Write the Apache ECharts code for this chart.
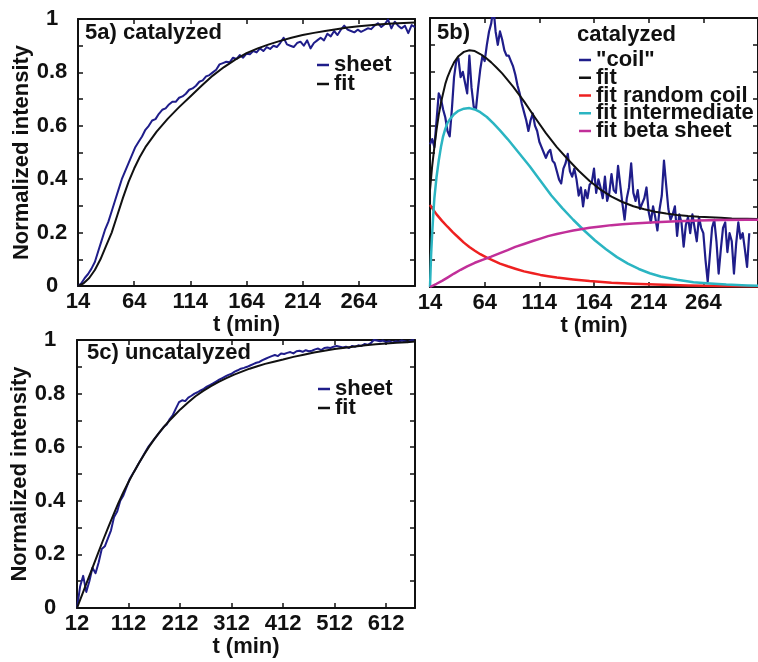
<!DOCTYPE html>
<html>
<head>
<meta charset="utf-8">
<script src="https://cdn.jsdelivr.net/npm/echarts@6/dist/echarts.min.js"></script>
<style>
  html, body { margin: 0; padding: 0; background: #fff; }
  #container { width: 758px; height: 662px; }
</style>
</head>
<body>
<div id="container"></div>
<script>
// 5a) catalyzed - sheet signal and fit
const sheetA = [
  [14,0.0],[17,0.01],[20,0.03],[23,0.045],[26,0.065],[29,0.09],[32,0.13],[35,0.17],[38,0.21],[41,0.24],
  [44,0.28],[47,0.32],[50,0.36],[53,0.4],[56,0.43],[59,0.46],[62,0.49],[65,0.52],[68,0.54],[71,0.56],
  [74,0.585],[77,0.6],[80,0.62],[83,0.625],[86,0.645],[89,0.66],[92,0.665],[95,0.68],[98,0.69],[101,0.69],
  [104,0.705],[107,0.71],[110,0.72],[113,0.735],[116,0.74],[119,0.75],[122,0.765],[125,0.77],[128,0.785],[131,0.79],
  [134,0.8],[137,0.81],[140,0.83],[143,0.835],[146,0.84],[149,0.838],[152,0.855],[155,0.85],[158,0.865],[161,0.855],
  [164,0.87],[167,0.868],[170,0.88],[173,0.875],[176,0.89],[179,0.88],[182,0.895],[185,0.888],[188,0.9],[191,0.895],
  [194,0.91],[197,0.93],[200,0.905],[203,0.9],[206,0.895],[209,0.91],[212,0.915],[215,0.9],[218,0.92],[221,0.89],
  [224,0.91],[227,0.92],[230,0.93],[233,0.92],[236,0.945],[239,0.935],[242,0.955],[245,0.94],[248,0.96],[251,0.975],
  [254,0.96],[257,0.955],[260,0.95],[263,0.96],[266,0.952],[269,0.958],[272,0.965],[275,0.962],[278,0.975],[281,0.984],
  [284,0.97],[287,0.98],[290,0.998],[293,0.965],[296,0.99],[299,0.975],[302,0.965],[305,0.975],[308,0.947],[311,0.977],[314,0.97]
];
const fitA = [
  [14,0],[19,0.01],[24,0.03],[29,0.06],[34,0.1],[39,0.15],[44,0.2],[49,0.265],[54,0.33],[59,0.39],[64,0.44],
  [69,0.483],[74,0.52],[84,0.578],[94,0.627],[104,0.67],[114,0.71],[124,0.75],[134,0.788],[144,0.82],[154,0.848],
  [164,0.872],[174,0.89],[184,0.905],[194,0.918],[204,0.93],[214,0.94],[224,0.948],[234,0.955],[244,0.962],[254,0.968],
  [264,0.973],[274,0.977],[284,0.98],[294,0.983],[304,0.985],[314,0.987]
];

// 5b) catalyzed - "coil" signal and fit components
const coilB = [
  [14,0.53],[16,0.55],[18,0.52],[20,0.62],[22,0.72],[24,0.7],[26,0.66],[28,0.63],[30,0.58],[32,0.56],
  [34,0.66],[36,0.78],[38,0.84],[40,0.85],[42,0.78],[44,0.8],[46,0.76],[48,0.72],[50,0.86],[52,0.74],
  [54,0.67],[56,0.66],[58,0.74],[60,0.81],[62,0.86],[64,0.84],[66,0.9],[68,0.95],[70,0.98],[72,1.04],
  [74,0.95],[76,0.9],[78,0.95],[80,0.92],[82,0.88],[84,0.86],[86,0.86],[88,0.84],[90,0.82],[92,0.79],
  [94,0.75],[96,0.72],[98,0.68],[100,0.65],[102,0.62],[104,0.58],[106,0.62],[108,0.645],[110,0.6],[112,0.58],
  [114,0.54],[116,0.52],[118,0.5],[120,0.48],[122,0.5],[124,0.51],[126,0.47],[128,0.46],[130,0.43],[132,0.4],
  [134,0.385],[136,0.44],[138,0.46],[140,0.495],[142,0.43],[144,0.41],[146,0.44],[148,0.4],[150,0.34],[152,0.37],
  [154,0.3],[156,0.36],[158,0.33],[160,0.38],[162,0.39],[164,0.44],[166,0.35],[168,0.4],[170,0.37],[172,0.33],
  [174,0.41],[176,0.32],[178,0.35],[180,0.42],[182,0.36],[184,0.35],[186,0.45],[188,0.38],[190,0.31],[192,0.25],
  [194,0.33],[196,0.37],[198,0.46],[200,0.35],[202,0.32],[204,0.36],[206,0.29],[208,0.31],[210,0.33],[212,0.37],
  [214,0.28],[216,0.24],[218,0.3],[220,0.26],[222,0.21],[224,0.29],[226,0.34],[228,0.47],[230,0.38],[232,0.29],
  [234,0.25],[236,0.27],[238,0.3],[240,0.19],[242,0.27],[244,0.24],[246,0.15],[248,0.23],[250,0.26],[252,0.2],
  [254,0.27],[256,0.22],[258,0.17],[260,0.26],[262,0.22],[264,0.2],[266,0.1],[268,0.02],[270,0.12],[272,0.22],
  [274,0.25],[276,0.17],[278,0.05],[280,0.14],[282,0.22],[284,0.24],[286,0.13],[288,0.2],[290,0.17],[292,0.05],
  [294,0.16],[296,0.24],[298,0.18],[300,0.2],[302,0.14],[304,0.075],[306,0.2]
];
const fitB = [
  [14,0.36],[16,0.45],[18,0.52],[20,0.585],[22,0.64],[24,0.685],[26,0.72],[28,0.755],[30,0.78],[33,0.81],
  [36,0.835],[40,0.858],[45,0.874],[50,0.88],[55,0.877],[60,0.866],[65,0.852],[70,0.835],[75,0.815],[80,0.794],
  [90,0.745],[100,0.69],[110,0.63],[120,0.572],[130,0.52],[140,0.475],[150,0.432],[160,0.394],[170,0.362],[180,0.336],
  [190,0.316],[200,0.3],[210,0.289],[220,0.28],[230,0.273],[240,0.268],[250,0.264],[260,0.261],[270,0.259],[280,0.257],
  [290,0.255],[304,0.254],[314,0.253]
];
const randomCoilB = [
  [14,0.305],[20,0.27],[25,0.246],[30,0.224],[35,0.203],[40,0.184],[45,0.165],[50,0.149],[55,0.135],[60,0.122],
  [66,0.109],[72,0.098],[78,0.087],[85,0.077],[92,0.068],[100,0.058],[108,0.051],[115,0.045],[122,0.04],[130,0.035],
  [145,0.028],[160,0.022],[180,0.016],[200,0.012],[220,0.009],[250,0.006],[280,0.004],[314,0.003]
];
const intermediateB = [
  [14,0.0],[15,0.12],[16,0.2],[17,0.27],[18,0.33],[20,0.41],[22,0.47],[24,0.52],[26,0.56],[28,0.588],
  [30,0.61],[33,0.628],[36,0.642],[40,0.655],[45,0.663],[50,0.665],[55,0.66],[60,0.65],[66,0.632],[72,0.608],
  [78,0.582],[85,0.55],[95,0.5],[105,0.45],[115,0.395],[125,0.34],[135,0.293],[145,0.25],[155,0.21],[165,0.173],
  [175,0.14],[185,0.111],[195,0.087],[205,0.067],[215,0.051],[225,0.039],[240,0.027],[255,0.018],[270,0.013],[285,0.009],
  [304,0.006],[314,0.005]
];
const betaSheetB = [
  [14,0.0],[20,0.012],[25,0.023],[30,0.035],[36,0.05],[42,0.064],[48,0.077],[55,0.09],[62,0.101],[70,0.113],
  [78,0.126],[85,0.137],[92,0.149],[100,0.16],[108,0.171],[115,0.18],[122,0.189],[130,0.197],[138,0.204],[145,0.21],
  [152,0.215],[160,0.22],[170,0.225],[180,0.23],[190,0.233],[200,0.236],[220,0.241],[240,0.244],[260,0.247],[280,0.249],
  [304,0.25],[314,0.25]
];

// 5c) uncatalyzed - sheet signal and fit
const sheetC = [
  [12,0.0],[18,0.08],[24,0.12],[30,0.06],[36,0.1],[42,0.15],[48,0.13],[54,0.17],[60,0.22],[66,0.23],
  [72,0.26],[78,0.29],[84,0.34],[90,0.36],[96,0.4],[102,0.42],[108,0.45],[114,0.48],[120,0.5],[126,0.52],
  [132,0.54],[138,0.56],[144,0.58],[150,0.6],[156,0.615],[162,0.63],[168,0.645],[174,0.66],[180,0.675],[186,0.685],
  [192,0.705],[198,0.72],[204,0.745],[210,0.768],[216,0.775],[222,0.772],[228,0.785],[234,0.792],[240,0.8],[246,0.805],
  [252,0.812],[258,0.818],[264,0.826],[270,0.832],[276,0.838],[282,0.845],[288,0.852],[294,0.858],[300,0.864],[306,0.87],
  [312,0.874],[318,0.882],[324,0.887],[330,0.893],[336,0.896],[342,0.9],[348,0.905],[354,0.91],[360,0.915],[366,0.918],
  [372,0.925],[378,0.93],[384,0.935],[390,0.94],[396,0.944],[402,0.94],[408,0.95],[414,0.948],[420,0.952],[426,0.955],
  [432,0.95],[438,0.958],[444,0.96],[450,0.956],[456,0.962],[462,0.958],[468,0.96],[474,0.965],[480,0.968],[486,0.962],
  [492,0.97],[498,0.972],[504,0.97],[510,0.975],[516,0.978],[522,0.975],[528,0.972],[534,0.975],[540,0.97],[546,0.978],
  [552,0.975],[558,0.98],[564,0.978],[570,0.985],[576,0.982],[582,0.988],[588,1.0],[594,0.998],[600,0.995],[606,0.998],
  [612,0.992],[618,0.996],[624,0.99],[630,0.995],[636,0.993],[642,0.998],[648,0.995],[654,0.992],[660,0.998],[666,1.0]
];
const fitC = [
  [12,0],[22,0.05],[32,0.1],[42,0.15],[52,0.2],[62,0.25],[72,0.298],[82,0.345],[92,0.39],[102,0.432],
  [112,0.47],[122,0.506],[132,0.54],[142,0.572],[152,0.602],[162,0.63],[172,0.655],[182,0.679],[192,0.7],[202,0.72],
  [212,0.74],[227,0.766],[242,0.79],[257,0.81],[272,0.828],[287,0.844],[302,0.858],[317,0.871],[332,0.882],[347,0.893],
  [362,0.902],[377,0.911],[392,0.918],[412,0.927],[432,0.937],[452,0.945],[472,0.953],[492,0.96],[512,0.966],[532,0.971],
  [552,0.976],[572,0.98],[592,0.984],[612,0.987],[632,0.99],[652,0.992],[668,0.994]
];

// tick values
const ticksAB = [14, 64, 114, 164, 214, 264];
const ticksC = [12, 112, 212, 312, 412, 512, 612];
const yLabels = [0, 0.2, 0.4, 0.6, 0.8, 1];

const FONT = 'Liberation Sans, Arial, sans-serif';
const BLUE = '#1f1d8a';
const BLACK = '#111111';
const RED = '#ee2020';
const CYAN = '#2bb5c2';
const MAGENTA = '#c12f99';

const chart = echarts.init(document.getElementById('container'), null, { renderer: 'canvas' });

const lineStyle = { color: BLACK, width: 2 };
const tick = { show: true, inside: true, length: 5, lineStyle: { color: BLACK, width: 1.5 } };
const labelFont = { fontFamily: FONT, fontWeight: 'bold', fontSize: 22, color: BLACK };

function xPair(grid, min, max, ticks, nameGap) {
  return [
    {
      type: 'value', gridIndex: grid, position: 'bottom', min: min, max: max,
      axisLine: { show: true, onZero: false, lineStyle: lineStyle },
      axisTick: Object.assign({ customValues: ticks }, tick),
      axisLabel: Object.assign({ customValues: ticks, margin: 5 }, labelFont),
      splitLine: { show: false },
      name: 't (min)', nameLocation: 'middle', nameGap: nameGap,
      nameTextStyle: labelFont
    },
    {
      type: 'value', gridIndex: grid, position: 'top', min: min, max: max,
      axisLine: { show: true, onZero: false, lineStyle: lineStyle },
      axisTick: Object.assign({ customValues: ticks }, tick),
      axisLabel: { show: false },
      splitLine: { show: false }
    }
  ];
}

function yPair(grid, showLabels, margin, nameGap) {
  return [
    {
      type: 'value', gridIndex: grid, position: 'left', min: 0, max: 1, interval: 0.1,
      axisLine: { show: true, onZero: false, lineStyle: lineStyle },
      axisTick: tick,
      axisLabel: showLabels
        ? Object.assign({ customValues: yLabels, margin: margin, align: 'center' }, labelFont)
        : { show: false },
      splitLine: { show: false },
      name: showLabels ? 'Normalized intensity' : '', nameLocation: 'middle', nameGap: nameGap,
      nameRotate: 90, nameTextStyle: labelFont
    },
    {
      type: 'value', gridIndex: grid, position: 'right', min: 0, max: 1, interval: 0.1,
      axisLine: { show: true, onZero: false, lineStyle: lineStyle },
      axisTick: tick,
      axisLabel: { show: false },
      splitLine: { show: false }
    }
  ];
}

function line(name, data, xi, color, width) {
  return {
    name: name, type: 'line', data: data, xAxisIndex: xi, yAxisIndex: xi,
    showSymbol: false, symbol: 'none', smooth: false,
    lineStyle: { color: color, width: width, join: 'round' }, itemStyle: { color: color },
    clip: true, animation: false
  };
}

const legendBase = {
  orient: 'vertical', icon: 'rect', itemWidth: 12, itemHeight: 2.5, itemGap: -3, padding: 0,
  selectedMode: false,
  textStyle: { fontFamily: FONT, fontWeight: 'bold', fontSize: 22, color: BLACK }
};

const titleStyle = { fontFamily: FONT, fontWeight: 'bold', fontSize: 22, color: BLACK };

const option = {
  animation: false,
  backgroundColor: '#ffffff',
  grid: [
    { left: 78, top: 19, width: 337, height: 267 },
    { left: 430, top: 18, width: 337, height: 269 },
    { left: 77, top: 340, width: 338, height: 268 }
  ],
  title: [
    { text: '5a) catalyzed', left: 85, top: 22, padding: 0, textStyle: titleStyle },
    { text: '5b)', left: 437, top: 22, padding: 0, textStyle: titleStyle },
    { text: 'catalyzed', left: 577, top: 24, padding: 0, textStyle: titleStyle },
    { text: '5c) uncatalyzed', left: 87, top: 342, padding: 0, textStyle: titleStyle }
  ],
  legend: [
    Object.assign({}, legendBase, { left: 317, top: 54, data: ['sheet', 'fit'] }),
    Object.assign({}, legendBase, { left: 579, top: 49, itemGap: -4.25,
      data: ['"coil"', 'fit', 'fit random coil', 'fit intermediate', 'fit beta sheet'] }),
    Object.assign({}, legendBase, { left: 318, top: 378, data: ['sheet', 'fit'] })
  ],
  xAxis: [].concat(
    xPair(0, 14, 314, ticksAB, 23),
    xPair(1, 14, 314, ticksAB, 23),
    xPair(2, 12, 668, ticksC, 26)
  ),
  yAxis: [].concat(
    yPair(0, true, 26, 45),
    yPair(1, false, 0, 0),
    yPair(2, true, 27, 44)
  ),
  series: [
    line('sheet', sheetA, 0, BLUE, 2),
    line('fit', fitA, 0, BLACK, 2),
    line('"coil"', coilB, 2, BLUE, 2.2),
    line('fit', fitB, 2, BLACK, 2),
    line('fit random coil', randomCoilB, 2, RED, 2.5),
    line('fit intermediate', intermediateB, 2, CYAN, 2.5),
    line('fit beta sheet', betaSheetB, 2, MAGENTA, 2.5),
    line('sheet', sheetC, 4, BLUE, 2),
    line('fit', fitC, 4, BLACK, 2)
  ]
};

chart.setOption(option);
</script>
</body>
</html>
